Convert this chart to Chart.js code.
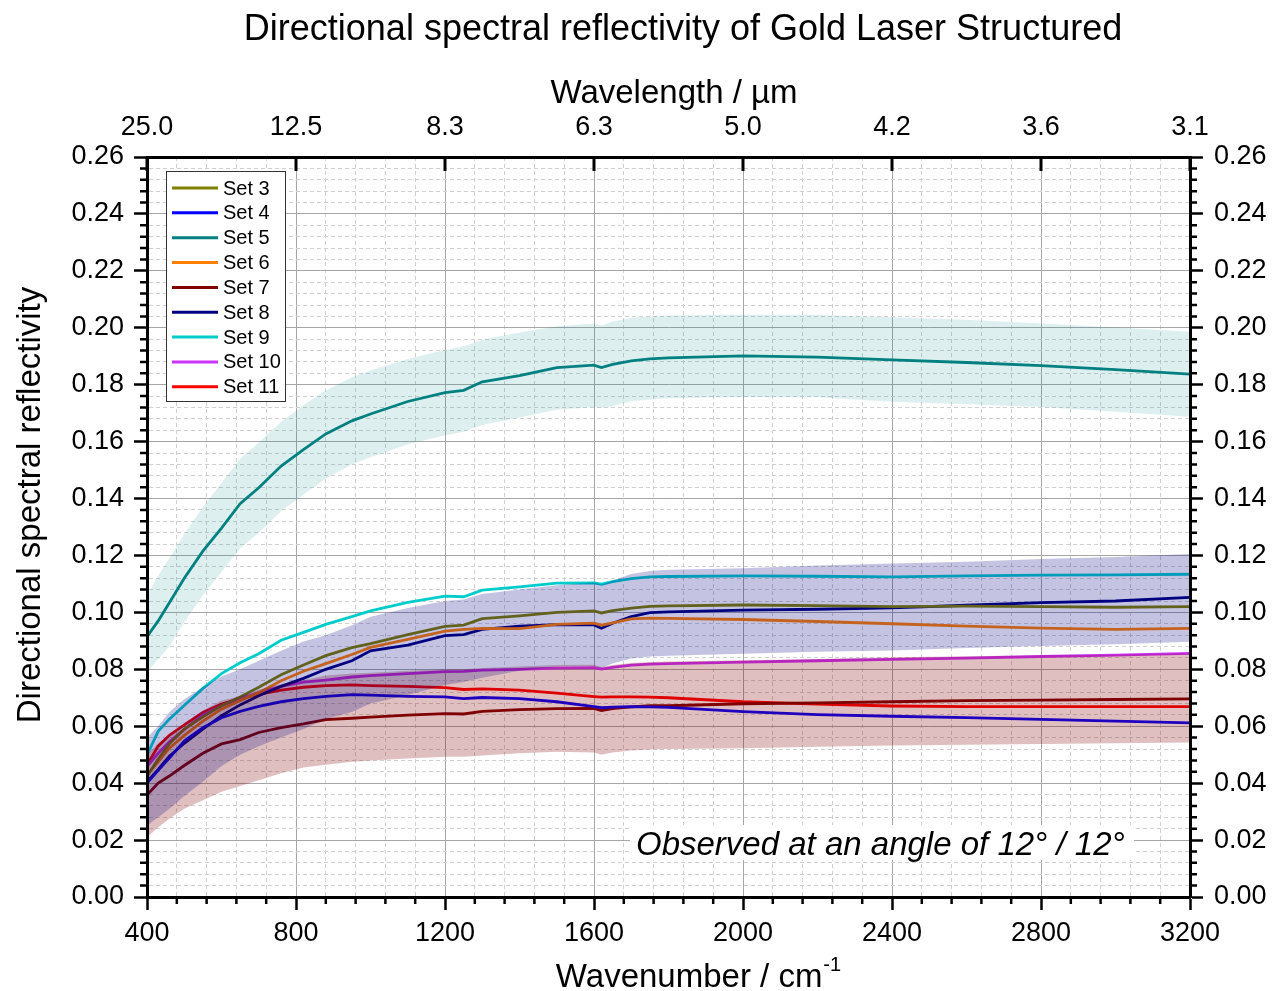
<!DOCTYPE html>
<html>
<head>
<meta charset="utf-8">
<script src="https://cdn.jsdelivr.net/npm/chart.js@4.4.0/dist/chart.umd.min.js"></script>
<style>
  body { margin: 0; background: #fff; }
  #wrap { width: 1272px; height: 991px; }
</style>
</head>
<body>
<div id="wrap"><canvas id="refl" width="1272" height="991"></canvas></div>
<script>
// wavenumber grid (cm^-1) shared by every series
const wavenumber = [400, 430, 460, 500, 550, 600, 650, 700, 760, 820, 880, 950, 1000, 1100, 1200, 1250,
  1300, 1400, 1500, 1600, 1620, 1650, 1700, 1750, 1800, 2000, 2200, 2400, 2600, 2800, 3000, 3200];

const set3 = [0.0423, 0.0485, 0.0538, 0.0590, 0.0633, 0.0672, 0.0703, 0.0737, 0.0781, 0.0815, 0.0848, 0.0876, 0.0890, 0.0922, 0.0951, 0.0955,
  0.0978, 0.0988, 0.1000, 0.1005, 0.0998, 0.1006, 0.1015, 0.1021, 0.1023, 0.1026, 0.1024, 0.1020, 0.1022, 0.1020, 0.1018, 0.1020];
const set4 = [0.0400, 0.0445, 0.0488, 0.0548, 0.0595, 0.0630, 0.0652, 0.0670, 0.0686, 0.0697, 0.0705, 0.0711, 0.0709, 0.0705, 0.0703, 0.0697,
  0.0701, 0.0697, 0.0686, 0.0669, 0.0665, 0.0667, 0.0669, 0.0668, 0.0666, 0.0651, 0.0641, 0.0635, 0.0630, 0.0624, 0.0618, 0.0612];
const set5 = [0.0915, 0.0970, 0.1034, 0.1120, 0.1215, 0.1296, 0.1382, 0.1438, 0.1514, 0.1572, 0.1627, 0.1673, 0.1697, 0.1741, 0.1772, 0.1780,
  0.1810, 0.1832, 0.1860, 0.1869, 0.1860, 0.1871, 0.1884, 0.1891, 0.1894, 0.1901, 0.1897, 0.1887, 0.1878, 0.1867, 0.1853, 0.1837];
const set6 = [0.0430, 0.0475, 0.0523, 0.0568, 0.0618, 0.0660, 0.0690, 0.0718, 0.0760, 0.0793, 0.0820, 0.0852, 0.0877, 0.0905, 0.0934, 0.0940,
  0.0944, 0.0943, 0.0958, 0.0962, 0.0955, 0.0963, 0.0977, 0.0980, 0.0979, 0.0975, 0.0968, 0.0960, 0.0952, 0.0945, 0.0940, 0.0944];
const set7 = [0.0358, 0.0400, 0.0425, 0.0462, 0.0505, 0.0538, 0.0553, 0.0578, 0.0595, 0.0608, 0.0623, 0.0628, 0.0632, 0.0639, 0.0644, 0.0643,
  0.0652, 0.0658, 0.0662, 0.0663, 0.0655, 0.0662, 0.0668, 0.0672, 0.0672, 0.0679, 0.0682, 0.0686, 0.0690, 0.0692, 0.0694, 0.0696];
const set8 = [0.0405, 0.0448, 0.0495, 0.0540, 0.0590, 0.0637, 0.0675, 0.0707, 0.0740, 0.0768, 0.0800, 0.0830, 0.0865, 0.0885, 0.0918, 0.0922,
  0.0940, 0.0952, 0.0957, 0.0956, 0.0944, 0.0962, 0.0985, 0.0999, 0.1002, 0.1008, 0.1011, 0.1016, 0.1025, 0.1034, 0.1040, 0.1053];
const set9 = [0.0499, 0.0582, 0.0625, 0.0673, 0.0733, 0.0785, 0.0823, 0.0855, 0.0902, 0.0930, 0.0958, 0.0985, 0.1005, 0.1035, 0.1057, 0.1055,
  0.1078, 0.1090, 0.1103, 0.1104, 0.1099, 0.1108, 0.1119, 0.1125, 0.1126, 0.1128, 0.1127, 0.1125, 0.1128, 0.1131, 0.1132, 0.1134];
const set10 = [0.0458, 0.0505, 0.0545, 0.0588, 0.0640, 0.0672, 0.0696, 0.0718, 0.0740, 0.0755, 0.0762, 0.0773, 0.0778, 0.0785, 0.0792, 0.0793,
  0.0797, 0.0800, 0.0804, 0.0806, 0.0801, 0.0807, 0.0815, 0.0818, 0.0820, 0.0825, 0.0830, 0.0835, 0.0839, 0.0845, 0.0850, 0.0856];
const set11 = [0.0464, 0.0530, 0.0568, 0.0605, 0.0648, 0.0678, 0.0697, 0.0712, 0.0727, 0.0737, 0.0743, 0.0745, 0.0743, 0.0740, 0.0736, 0.0729,
  0.0731, 0.0727, 0.0716, 0.0704, 0.0702, 0.0703, 0.0703, 0.0702, 0.0700, 0.0686, 0.0678, 0.0671, 0.0669, 0.0669, 0.0669, 0.0669];

// spread bands (upper / lower limits)
const set5Upper = [0.106, 0.113, 0.119, 0.1275, 0.137, 0.1455, 0.154, 0.1597, 0.167, 0.1728, 0.178, 0.1826, 0.185, 0.189, 0.1922, 0.1935,
  0.1958, 0.1983, 0.2005, 0.2015, 0.2008, 0.2022, 0.2035, 0.204, 0.2043, 0.2046, 0.2045, 0.2037, 0.2028, 0.2015, 0.2001, 0.1986];
const set5Lower = [0.079, 0.0835, 0.088, 0.0965, 0.106, 0.1142, 0.1225, 0.128, 0.1355, 0.1414, 0.147, 0.152, 0.1545, 0.159, 0.1622, 0.1635,
  0.1658, 0.1685, 0.1712, 0.1722, 0.1718, 0.1725, 0.1742, 0.1748, 0.1752, 0.1757, 0.1756, 0.174, 0.1731, 0.1722, 0.1705, 0.1687];
const set8Upper = [0.056, 0.060, 0.065, 0.0695, 0.0738, 0.0775, 0.080, 0.083, 0.0865, 0.0898, 0.092, 0.0955, 0.0985, 0.1015, 0.104, 0.1045,
  0.1065, 0.108, 0.1095, 0.1105, 0.1098, 0.1112, 0.1135, 0.1145, 0.115, 0.1155, 0.1165, 0.1172, 0.1178, 0.1188, 0.1195, 0.1205];
const set8Lower = [0.025, 0.028, 0.031, 0.0355, 0.0405, 0.046, 0.050, 0.053, 0.056, 0.059, 0.0625, 0.065, 0.068, 0.071, 0.0745, 0.0755,
  0.077, 0.0795, 0.081, 0.0812, 0.0805, 0.082, 0.0838, 0.0845, 0.0848, 0.0855, 0.0862, 0.0866, 0.0875, 0.0882, 0.0888, 0.0897];
const set7Upper = [0.050, 0.054, 0.057, 0.061, 0.0655, 0.069, 0.0705, 0.0728, 0.0748, 0.0762, 0.0778, 0.0785, 0.0788, 0.0795, 0.080, 0.080,
  0.0805, 0.081, 0.0815, 0.0816, 0.0808, 0.0815, 0.0822, 0.0826, 0.0827, 0.0832, 0.0836, 0.0842, 0.0846, 0.0849, 0.0852, 0.0856];
const set7Lower = [0.021, 0.0245, 0.0275, 0.031, 0.034, 0.037, 0.039, 0.041, 0.0435, 0.0455, 0.0465, 0.0475, 0.048, 0.0487, 0.0493, 0.0493,
  0.0497, 0.0505, 0.051, 0.0508, 0.050, 0.0508, 0.0515, 0.0518, 0.052, 0.0523, 0.0528, 0.0532, 0.0535, 0.0538, 0.054, 0.0543];

const wavelengthLabels = ['25.0', '12.5', '8.3', '6.3', '5.0', '4.2', '3.6', '3.1'];

const seriesNames = ['Set 3', 'Set 4', 'Set 5', 'Set 6', 'Set 7', 'Set 8', 'Set 9', 'Set 10', 'Set 11'];
const seriesColors = ['#808000', '#0000ff', '#008080', '#ff8000', '#800000', '#000080', '#00cccc', '#cc33ff', '#ff0000'];
const seriesValues = [set3, set4, set5, set6, set7, set8, set9, set10, set11];

const FONT = '"Liberation Sans", Arial, sans-serif';

const toPoints = arr => arr.map((v, i) => ({ x: wavenumber[i], y: v }));
const isMajorX = v => Math.abs(v / 400 - Math.round(v / 400)) < 1e-6;
const isMajorY = v => Math.abs(v / 0.02 - Math.round(v / 0.02)) < 1e-6;

const bands = [
  { upper: set5Upper, lower: set5Lower, color: 'rgba(0, 128, 128, 0.13)' },
  { upper: set8Upper, lower: set8Lower, color: 'rgba(0, 0, 128, 0.23)' },
  { upper: set7Upper, lower: set7Lower, color: 'rgba(128, 0, 0, 0.25)' }
];

const datasets = [];
bands.forEach(b => {
  datasets.push({ data: toPoints(b.upper), borderColor: 'rgba(0,0,0,0)', borderWidth: 0, pointRadius: 0, fill: false, order: 1 });
  datasets.push({ data: toPoints(b.lower), borderColor: 'rgba(0,0,0,0)', borderWidth: 0, pointRadius: 0,
    fill: '-1', backgroundColor: b.color, order: 1 });
});
seriesValues.forEach((vals, i) => {
  datasets.push({
    label: seriesNames[i], data: toPoints(vals), borderColor: seriesColors[i],
    borderWidth: 2.8, pointRadius: 0, fill: false, order: 2
  });
});

const tickFont = { family: FONT, size: 27 };

// minor ticks, top inward ticks, titles, legend box and note
const decorations = {
  id: 'decorations',
  afterDraw(chart) {
    const ctx = chart.ctx;
    const { x, x2, y } = chart.scales;
    const area = chart.chartArea;
    ctx.save();
    ctx.strokeStyle = '#000';
    ctx.lineWidth = 2.5;
    ctx.beginPath();
    y.ticks.forEach(t => {
      if (isMajorY(t.value)) return;
      const py = y.getPixelForValue(t.value);
      ctx.moveTo(area.left, py); ctx.lineTo(area.left - 7, py);
      ctx.moveTo(area.right, py); ctx.lineTo(area.right + 7, py);
    });
    x.ticks.forEach(t => {
      if (isMajorX(t.value)) return;
      const px = x.getPixelForValue(t.value);
      ctx.moveTo(px, area.bottom); ctx.lineTo(px, area.bottom + 7);
    });
    ctx.stroke();

    ctx.lineWidth = 3;
    ctx.beginPath();
    x2.ticks.forEach(t => {
      const px = x2.getPixelForValue(t.value);
      ctx.moveTo(px, area.top); ctx.lineTo(px, area.top + 14);
    });
    ctx.stroke();

    ctx.fillStyle = '#000';
    ctx.textAlign = 'center';
    ctx.textBaseline = 'alphabetic';
    ctx.font = '36px ' + FONT;
    ctx.fillText('Directional spectral reflectivity of Gold Laser Structured', 683, 40);
    ctx.font = '33px ' + FONT;
    ctx.fillText('Wavelength / µm', 674, 103);

    // bottom axis title with superscript
    const main = 'Wavenumber / cm';
    ctx.font = '33px ' + FONT;
    const wMain = ctx.measureText(main).width;
    ctx.font = '20px ' + FONT;
    const wSup = ctx.measureText('-1').width;
    const startX = 698 - (wMain + wSup) / 2;
    ctx.textAlign = 'left';
    ctx.font = '33px ' + FONT;
    ctx.fillText(main, startX, 987);
    ctx.font = '20px ' + FONT;
    ctx.fillText('-1', startX + wMain + 1, 971);

    ctx.save();
    ctx.translate(40, 505);
    ctx.rotate(-Math.PI / 2);
    ctx.textAlign = 'center';
    ctx.font = '33px ' + FONT;
    ctx.fillText('Directional spectral reflectivity', 0, 0);
    ctx.restore();

    // note box
    ctx.fillStyle = '#fff';
    ctx.fillRect(630, 825, 504, 35);
    ctx.fillStyle = '#000';
    ctx.textAlign = 'left';
    ctx.font = 'italic 33px ' + FONT;
    ctx.fillText('Observed at an angle of 12° / 12°', 636, 855);

    // legend
    const lx = area.left + 19, ly = area.top + 14;
    ctx.fillStyle = '#fff';
    ctx.fillRect(lx, ly, 119, 230);
    ctx.strokeStyle = '#333';
    ctx.lineWidth = 1;
    ctx.strokeRect(lx + 0.5, ly + 0.5, 119, 230);
    ctx.font = '20px ' + FONT;
    ctx.textBaseline = 'middle';
    seriesNames.forEach((name, i) => {
      const yy = ly + 17 + i * 24.85;
      ctx.strokeStyle = seriesColors[i];
      ctx.lineWidth = 3;
      ctx.beginPath(); ctx.moveTo(lx + 6, yy); ctx.lineTo(lx + 52, yy); ctx.stroke();
      ctx.fillStyle = '#000';
      ctx.fillText(name, lx + 57, yy + 1);
    });
    ctx.restore();
  }
};

new Chart(document.getElementById('refl'), {
  type: 'line',
  data: { datasets },
  plugins: [decorations],
  options: {
    responsive: false,
    animation: false,
    layout: { padding: 0 },
    plugins: { legend: { display: false }, title: { display: false }, tooltip: { enabled: false } },
    scales: {
      x: {
        type: 'linear', position: 'bottom', min: 400, max: 3200,
        ticks: {
          stepSize: 80, autoSkip: false, maxRotation: 0, maxTicksLimit: 1000,
          color: '#000', font: tickFont, padding: 7,
          callback: v => isMajorX(v) ? String(Math.round(v)) : ''
        },
        grid: {
          color: c => (c.tick && isMajorX(c.tick.value)) ? '#a6a6a6' : '#d0d0d0',
          lineWidth: 1, drawTicks: true, tickLength: 13, tickWidth: 2.5,
          tickColor: c => (c.tick && isMajorX(c.tick.value)) ? '#000' : 'rgba(0,0,0,0)'
        },
        border: { color: '#000', width: 3, z: 1, dash: c => (c.tick && !isMajorX(c.tick.value)) ? [4, 3] : [] },
        afterFit: s => { s.height = 94; }
      },
      x2: {
        type: 'linear', position: 'top', min: 400, max: 3200,
        ticks: {
          stepSize: 400, autoSkip: false, maxRotation: 0, color: '#000', font: tickFont, padding: 13,
          callback: (v, i) => wavelengthLabels[i]
        },
        grid: { drawOnChartArea: false, drawTicks: false },
        border: { color: '#000', width: 3, z: 1 },
        afterFit: s => { s.height = 157; }
      },
      y: {
        type: 'linear', position: 'left', min: 0, max: 0.26,
        ticks: {
          stepSize: 0.004, autoSkip: false, maxTicksLimit: 1000, color: '#000', font: tickFont, padding: 10,
          callback: v => isMajorY(v) ? v.toFixed(2) : ''
        },
        grid: {
          color: c => (c.tick && isMajorY(c.tick.value)) ? '#a6a6a6' : '#d0d0d0',
          lineWidth: 1, drawTicks: true, tickLength: 13, tickWidth: 2.5,
          tickColor: c => (c.tick && isMajorY(c.tick.value)) ? '#000' : 'rgba(0,0,0,0)'
        },
        border: { color: '#000', width: 3, z: 1, dash: c => (c.tick && !isMajorY(c.tick.value)) ? [4, 3] : [] },
        afterFit: s => { s.width = 147; }
      },
      y2: {
        type: 'linear', position: 'right', min: 0, max: 0.26,
        ticks: {
          stepSize: 0.004, autoSkip: false, maxTicksLimit: 1000, color: '#000', font: tickFont, padding: 11,
          callback: v => isMajorY(v) ? v.toFixed(2) : ''
        },
        grid: {
          drawOnChartArea: false, drawTicks: true, tickLength: 13, tickWidth: 2.5,
          tickColor: c => (c.tick && isMajorY(c.tick.value)) ? '#000' : 'rgba(0,0,0,0)'
        },
        border: { color: '#000', width: 3, z: 1 },
        afterFit: s => { s.width = 82; }
      }
    }
  }
});
</script>
</body>
</html>
